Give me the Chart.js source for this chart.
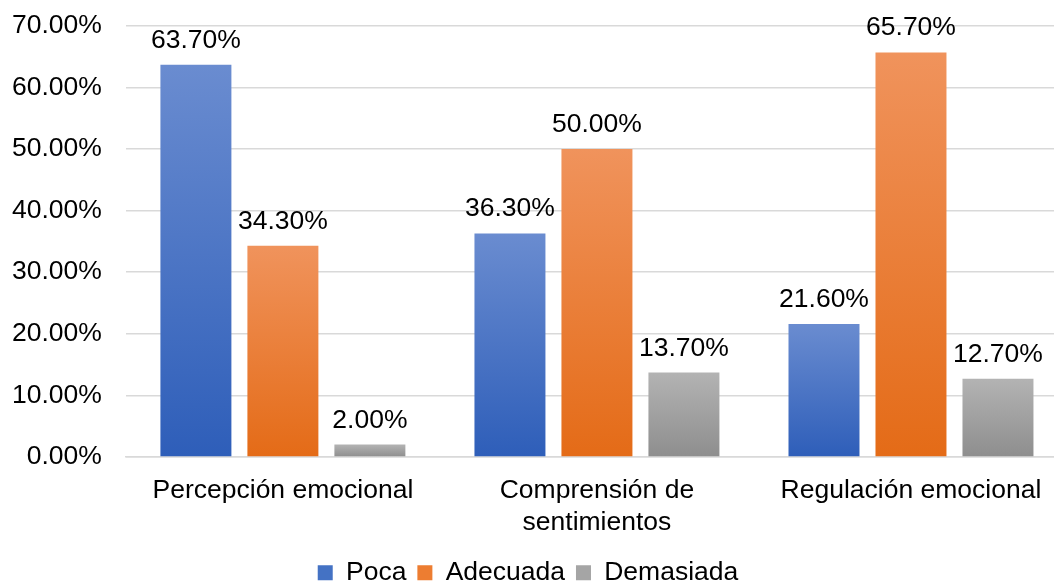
<!DOCTYPE html>
<html>
<head>
<meta charset="utf-8">
<script src="https://cdn.jsdelivr.net/npm/chart.js@4"></script>
<style>
  html, body { margin: 0; padding: 0; background: #fff; overflow: hidden; }
  #wrap { position: relative; left: -12px; top: -14px; width: 1080px; height: 597px; }
</style>
</head>
<body>
<div id="wrap"><canvas id="myChart"></canvas></div>
<script>
const categories = ['Percepción emocional', ['Comprensión de', 'sentimientos'], 'Regulación emocional'];
const seriesNames = ['Poca', 'Adecuada', 'Demasiada'];
const poca = [63.7, 36.3, 21.6];
const adecuada = [34.3, 50.0, 65.7];
const demasiada = [2.0, 13.7, 12.7];

// top / bottom gradient colours for each series
const colorTop = ['#6A8CD0', '#F0935C', '#B3B3B3'];
const colorBottom = ['#2E5EB9', '#E46B17', '#8E8E8E'];
const colorLegend = ['#4472C4', '#ED7D31', '#A5A5A5'];

const FONT = "'Liberation Sans', Arial, sans-serif";
const FSIZE = 26.5;

const barGradient = (i) => (context) => {
  const chart = context.chart;
  const {chartArea, scales} = chart;
  if (!chartArea || context.type !== 'data') return colorLegend[i];
  const top = scales.y.getPixelForValue(context.raw);
  const bottom = scales.y.getPixelForValue(0);
  const g = chart.ctx.createLinearGradient(0, top, 0, bottom);
  g.addColorStop(0, colorTop[i]);
  g.addColorStop(1, colorBottom[i]);
  return g;
};

const valueLabels = {
  id: 'valueLabels',
  afterDatasetsDraw(chart) {
    const ctx = chart.ctx;
    ctx.save();
    ctx.font = FSIZE + 'px ' + FONT;
    ctx.fillStyle = '#000';
    ctx.textAlign = 'center';
    ctx.textBaseline = 'bottom';
    chart.data.datasets.forEach((ds, i) => {
      chart.getDatasetMeta(i).data.forEach((bar, j) => {
        ctx.fillText(ds.data[j].toFixed(2) + '%', bar.x, bar.y - 11);
      });
    });
    ctx.restore();
  }
};

const seriesData = [poca, adecuada, demasiada];

const ctx = document.getElementById('myChart');
new Chart(ctx, {
  type: 'bar',
  data: {
    labels: categories,
    datasets: seriesData.map((d, i) => ({
      label: seriesNames[i],
      data: d,
      backgroundColor: barGradient(i),
      categoryPercentage: 0.831,
      barPercentage: 0.816
    }))
  },
  plugins: [valueLabels],
  options: {
    responsive: true,
    maintainAspectRatio: false,
    animation: false,
    layout: { padding: { top: 0, left: 0, right: 0, bottom: -13 } },
    scales: {
      y: {
        min: 0,
        max: 70,
        ticks: {
          stepSize: 10,
          padding: 24,
          color: '#000',
          font: { family: FONT, size: FSIZE },
          callback: v => v.toFixed(2) + '%'
        },
        grid: { color: '#D9D9D9', lineWidth: 1.5, drawTicks: false },
        border: { display: false }
      },
      x: {
        ticks: {
          color: '#000',
          padding: 10,
          font: { family: FONT, size: FSIZE },
          maxRotation: 0
        },
        grid: { display: false },
        border: { color: '#D9D9D9', width: 1.5 }
      }
    },
    plugins: {
      legend: {
        position: 'bottom',
        labels: {
          color: '#000',
          font: { family: FONT, size: FSIZE },
          boxWidth: 15,
          boxHeight: 15,
          padding: 11,
          generateLabels: (chart) => seriesNames.map((n, i) => ({
            text: n,
            fillStyle: colorLegend[i],
            strokeStyle: colorLegend[i],
            lineWidth: 0,
            datasetIndex: i
          }))
        }
      },
      tooltip: { enabled: false }
    }
  }
});
</script>
</body>
</html>
